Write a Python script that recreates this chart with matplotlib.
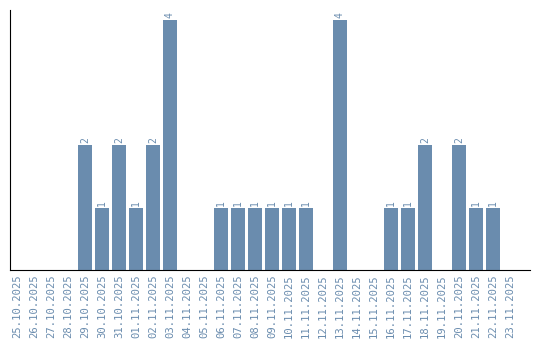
import numpy as np
import matplotlib.pyplot as plt

dates = ['25.10.2025', '26.10.2025', '27.10.2025', '28.10.2025', '29.10.2025',
         '30.10.2025', '31.10.2025', '01.11.2025', '02.11.2025', '03.11.2025',
         '04.11.2025', '05.11.2025', '06.11.2025', '07.11.2025', '08.11.2025',
         '09.11.2025', '10.11.2025', '11.11.2025', '12.11.2025', '13.11.2025',
         '14.11.2025', '15.11.2025', '16.11.2025', '17.11.2025', '18.11.2025',
         '19.11.2025', '20.11.2025', '21.11.2025', '22.11.2025', '23.11.2025']
counts = [0, 0, 0, 0, 2, 1, 2, 1, 2, 4,
          0, 0, 1, 1, 1, 1, 1, 1, 0, 4,
          0, 0, 1, 1, 2, 0, 2, 1, 1, 0]

color = '#6a8cae'

fig = plt.figure(figsize=(5.4, 3.4), dpi=100)
ax = fig.add_axes([10 / 540, 70 / 340, 520 / 540, 260 / 340])

x = np.arange(len(dates))
ax.bar(x, counts, width=0.82, color=color)
for i, c in enumerate(counts):
    if c > 0:
        ax.text(x[i], c + 0.03, str(c), rotation=90, ha='center', va='bottom',
                color=color, fontsize=7, family='DejaVu Sans Mono')

ax.set_xlim(-0.41, 30.18)
ax.set_ylim(0, 4.16)
ax.set_xticks(x)
ax.set_xticklabels(dates, rotation=90, color=color, fontsize=7.6,
                   family='DejaVu Sans Mono')
ax.tick_params(axis='x', length=0, pad=3)
ax.set_yticks([])
ax.spines['top'].set_visible(False)
ax.spines['right'].set_visible(False)

fig.savefig('out.png', dpi=100)
